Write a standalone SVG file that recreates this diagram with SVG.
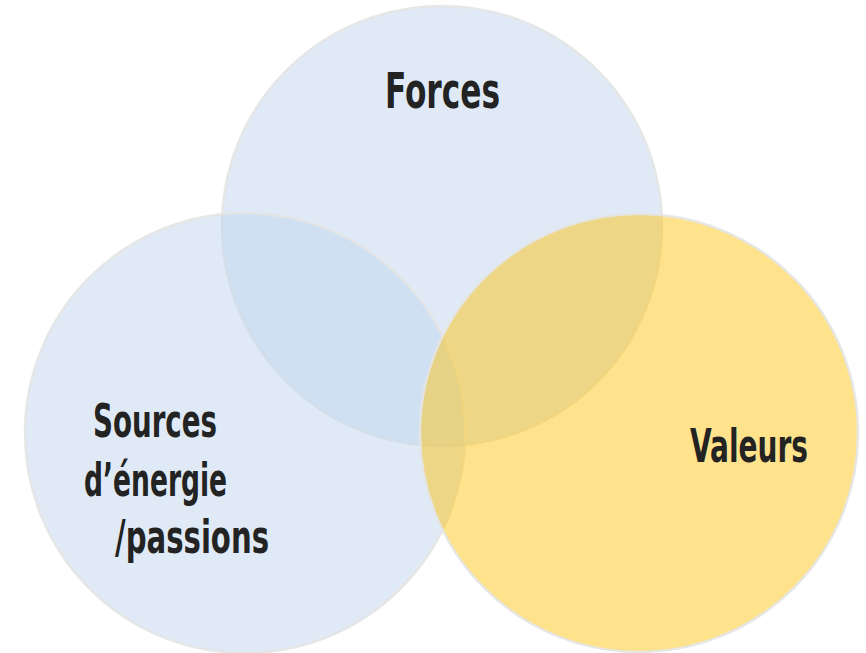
<svg xmlns="http://www.w3.org/2000/svg" width="866" height="653" viewBox="0 0 866 653">
  <style>
    .ring { stroke: #e4e4e4; stroke-width: 2.5; stroke-opacity: 0.9; }
    .blue { fill: #bfd6ee; fill-opacity: 0.5; }
    .gold { fill: #ffc000; fill-opacity: 0.45; }
    .label { font-family: "Liberation Sans Narrow", "DejaVu Sans Condensed", "Liberation Sans", sans-serif; font-weight: bold; fill: #232323; font-stretch: condensed; }
  </style>
  <rect width="866" height="653" fill="#ffffff"/>
  <g id="forces">
    <circle class="blue ring" cx="442" cy="226" r="220"/>
    <text class="label" x="385" y="108" font-size="49" textLength="115" lengthAdjust="spacingAndGlyphs">Forces</text>
  </g>
  <g id="sources">
    <circle class="blue ring" cx="245" cy="433" r="220"/>
    <text class="label" font-size="46">
      <tspan x="93" y="437" textLength="124" lengthAdjust="spacingAndGlyphs">Sources</tspan>
      <tspan x="84" y="496" textLength="143" lengthAdjust="spacingAndGlyphs">d’énergie</tspan>
      <tspan x="115" y="553" textLength="154" lengthAdjust="spacingAndGlyphs">/passions</tspan>
    </text>
  </g>
  <g id="valeurs">
    <circle class="gold ring" cx="639" cy="433" r="219"/>
    <text class="label" x="690" y="462" font-size="47" textLength="118" lengthAdjust="spacingAndGlyphs">Valeurs</text>
  </g>
</svg>
